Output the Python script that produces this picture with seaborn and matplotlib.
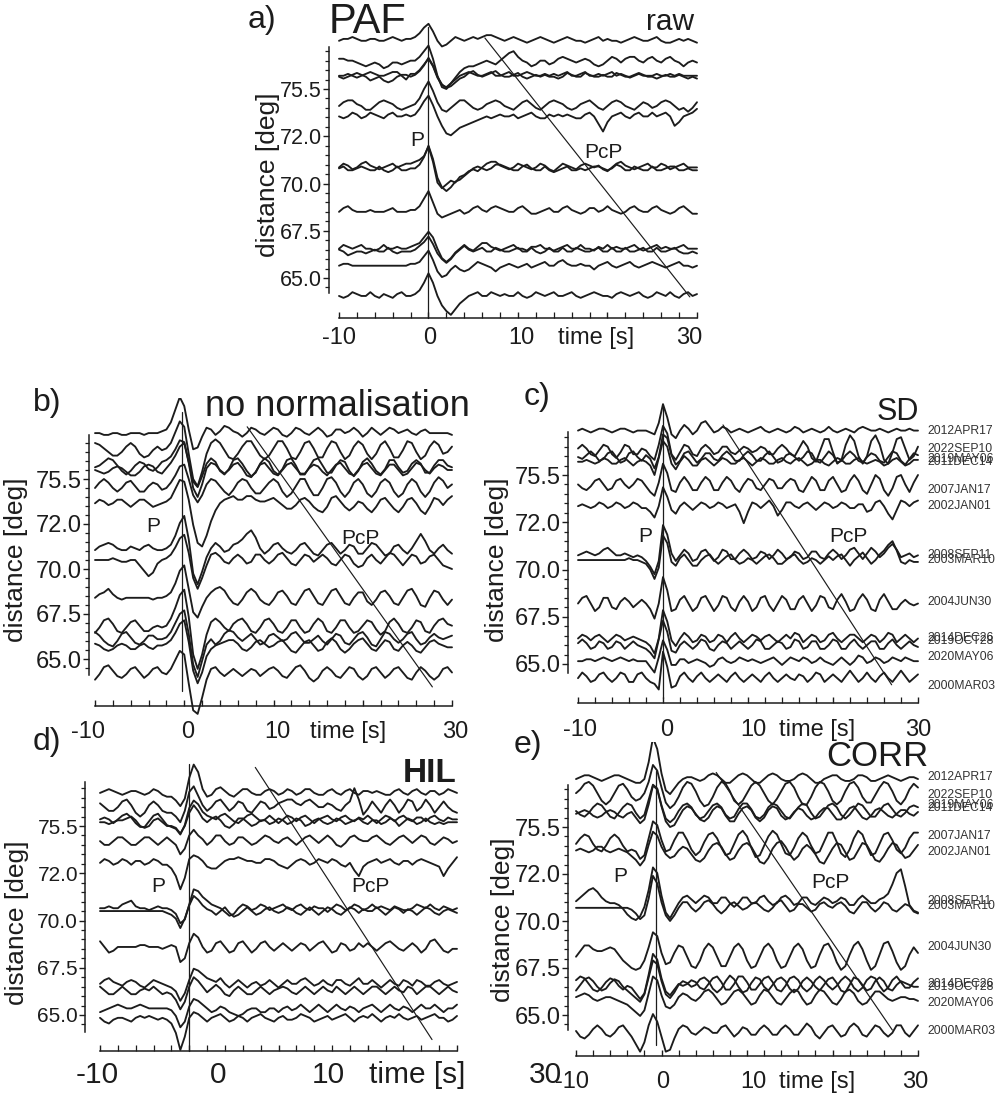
import numpy as np
import pandas as pd
import matplotlib
matplotlib.use("Agg")
import matplotlib.pyplot as plt
import seaborn as sns

sns.set_theme(style="ticks")
plt.rcParams["font.family"] = ["Liberation Sans", "DejaVu Sans"]

W, H = 1001, 1097
INK = "#1c1c1c"

# ---------------------------------------------------------------- data
events = ["2012APR17", "2022SEP10", "2019MAY06", "2011DEC14", "2007JAN17",
          "2002JAN01", "2008SEP11", "2003MAR10", "2004JUN30", "2014DEC26",
          "2019OCT28", "2020MAY06", "2000MAR03"]
distance = [77.35, 76.4, 75.85, 75.7, 74.2, 73.35, 70.75, 70.5, 68.3, 66.35,
            66.2, 65.35, 63.85]

t_start, t_step = -10.0, 0.5          # samples every 0.5 s from -10 s to 30 s
amp_unit = 0.1                         # trace amplitudes are in 0.1 deg

# a) PAF raw
paf_raw = [
    [0,1,1,2,1,0,0,1,1,0, 0,1,2,1,0,1,1,2,4,7, 9,5,0,-3,-2,0,2,1,0,1, 2,1,2,3,3,2,1,0,1,2, 1,0,-1,0,1,2,1,0,-1,0, 1,2,1,0,0,-1,0,1,2,0, 1,0,0,-1,0,1,2,1,0,0, 1,2,0,-1,-1,0,1,0,1,0, -1],
    [2,2,1,1,0,-1,-2,-1,0,-1, -3,-2,0,0,-1,0,1,1,3,6, 9,2,-7,-13,-14,-11,-8,-5,-3,-2, -2,-1,0,1,0,-1,1,3,5,6, 3,1,0,-2,-1,1,1,-1,0,2, 3,2,1,0,1,2,1,-1,-2,-1, 1,3,2,0,2,3,3,1,0,2, 3,1,0,2,3,1,0,-2,0,1, 0],
    [0,-1,0,1,2,1,0,-2,-1,0, -2,-3,-2,0,1,1,0,1,3,6, 10,6,0,-4,-6,-5,-3,-1,0,2, 3,1,0,1,2,3,1,0,0,1, 2,0,-1,0,1,0,1,0,0,-1, 0,2,1,0,0,2,1,0,0,1, 0,0,2,1,0,0,1,2,1,0, 0,-1,0,1,0,0,1,0,-1,0, -1],
    [0,0,1,0,-1,0,1,2,1,0, 0,1,2,2,0,-2,1,1,3,6, 9,5,-1,-5,-6,-4,-2,0,1,2, 1,0,0,1,2,0,0,1,2,0, 0,1,2,1,0,0,1,0,1,0, 1,2,0,0,1,2,0,0,1,0, 1,2,0,1,0,-1,0,1,0,0, 0,1,0,0,1,0,1,0,0,0, 0],
    [0,2,3,3,1,0,-2,-2,0,2, 3,2,1,-1,-2,-1,0,1,4,9, 13,8,2,-2,-3,-1,1,3,3,1, -1,-2,-1,1,2,3,2,0,-1,-2, 0,2,3,1,-1,-2,0,2,3,2, 1,-1,-2,-1,1,2,3,1,-1,-2, 0,2,3,2,0,-1,-2,0,2,1, -1,0,2,3,2,0,-2,-1,-3,-1, 2],
    [0,-1,0,2,1,-1,0,2,1,0, -1,1,2,0,0,1,0,1,4,8, 11,6,0,-5,-9,-10,-8,-6,-5,-4, -3,-2,-1,0,-1,0,1,0,0,1, -1,0,1,2,0,-1,-1,1,0,1, 0,1,0,-1,-1,1,2,0,-4,-8, -3,0,1,2,0,-1,1,2,0,0, 2,0,1,2,0,-5,-3,0,1,2, 4],
    [0,2,1,-1,0,2,3,1,0,-1, 0,1,2,0,1,2,2,3,4,6, 11,3,-8,-11,-9,-7,-8,-5,-4,-2, -1,-2,0,2,3,3,1,0,-1,0, 2,1,0,-1,0,2,1,-1,-2,0, 2,1,0,-1,1,2,1,0,1,-1, -2,0,2,3,1,0,-1,0,1,2, 0,0,2,1,-1,0,1,2,0,0, 0],
    [1,2,0,0,1,2,1,0,0,2, 0,-1,0,2,0,0,1,1,3,7, 13,6,-4,-9,-11,-9,-6,-5,-3,-1, 1,2,1,0,1,3,3,2,1,0, 0,2,3,1,0,0,2,0,-1,0, 1,2,0,0,1,0,1,2,2,1, 0,1,3,2,0,0,2,1,0,0, 2,0,0,1,2,2,0,0,1,0, 0],
    [0,2,3,1,0,0,0,1,0,0, 0,1,2,0,0,0,1,1,3,7, 11,5,-1,-3,-2,-1,0,1,-1,0, 2,3,1,0,2,3,2,1,0,0, 2,3,1,-1,-1,0,1,2,0,0, 2,3,1,0,-1,0,2,2,0,1, 3,1,0,-1,0,2,3,1,0,0, 2,3,1,0,-1,0,2,3,1,-1, -1],
    [0,2,1,0,1,2,0,0,-1,0, 2,0,0,1,0,0,1,2,3,6, 9,6,0,-5,-7,-5,-2,0,2,0, -1,1,3,3,1,0,-1,0,1,2, 0,0,-1,1,1,2,0,0,-1,0, 1,2,0,0,2,0,0,-1,1,0, 2,0,1,0,0,1,2,0,-1,0, 1,2,0,1,0,0,1,2,0,0, 0],
    [1,0,-2,-1,0,0,-1,0,1,0, 0,2,0,-1,0,0,0,1,3,5, 8,4,-1,-4,-6,-4,-1,1,3,1, 0,1,2,0,0,2,1,0,0,1, 2,0,0,2,0,-1,0,2,0,0, 2,0,0,2,1,0,0,1,2,0, 0,2,0,0,2,0,0,1,2,0, 0,2,0,0,1,2,0,-1,-1,0, -1],
    [0,1,1,0,0,0,0,0,0,0, 0,0,0,0,0,0,1,1,2,5, 8,3,-3,-6,-5,-2,0,-2,-3,-2, 0,2,1,0,-1,-3,-1,0,1,0, -1,0,1,-1,0,1,2,0,0,2, 3,1,0,0,1,0,0,-2,0,1, 2,0,-1,0,1,2,0,-1,0,1, 2,1,0,-1,0,1,2,0,0,-1, 0],
    [0,-1,0,2,1,0,0,2,0,-1, 1,0,-1,1,2,0,0,1,3,7, 12,7,0,-5,-8,-10,-7,-4,-2,0, 1,2,0,0,2,1,0,1,0,0, 2,0,-1,0,2,1,0,1,2,0, 0,1,2,0,-1,0,1,2,1,0, 0,-1,1,2,1,0,1,2,0,-1, 0,2,1,0,2,0,-1,1,2,0, 1],
]
paf_shift = [2, 0, -2, 0, -1, 2, 1, 2, 2, 2, 2, 3, 2]

# b) no normalisation
nonorm = [
    [0,0,-1,-1,0,0,-1,-1,0,0, 0,-1,0,0,0,1,2,6,13,20, 15,2,-9,-8,-2,3,2,-1,1,4, 3,1,0,-2,0,3,2,0,-1,1, 3,2,-1,-2,0,3,2,0,-1,1, 3,1,-2,-1,2,2,0,1,3,1, -2,0,3,1,-1,1,3,2,0,1, 2,0,-1,1,2,0,0,0,0,0, -1],
    [4,3,1,-1,-3,-3,-1,2,4,2, -2,-4,-3,0,2,0,1,4,10,16, 13,-2,-16,-20,-12,-2,4,6,4,0, -4,-5,-2,2,5,5,1,-3,-5,-3, 1,5,5,1,-4,-5,-1,4,5,1, -4,-4,1,5,4,-1,-5,-3,2,5, 3,-2,-5,-2,3,5,1,-4,-4,0, 5,4,-1,-5,-3,2,5,3,-2,-1, 2],
    [0,1,3,5,4,1,-2,-4,-2,1, 3,2,-1,-2,0,3,4,6,10,15, 14,3,-8,-11,-5,2,5,3,-2,-4, -1,4,5,2,-2,-5,-3,2,5,3, -2,-4,-1,4,5,1,-4,-4,0,4, 5,1,-3,-3,1,4,3,-2,-5,-2, 3,5,2,-2,-4,-1,4,4,0,-3, -2,2,4,2,-3,-3,1,4,4,1, 0],
    [0,-1,-2,-1,1,2,1,-1,-3,-3, -1,2,3,2,-1,-2,1,4,8,13, 15,4,-10,-15,-8,1,4,3,0,-2, 0,3,4,1,-3,-4,-1,3,4,1, -2,-3,0,3,4,1,-2,-2,1,3, 2,-1,-3,0,3,4,1,-2,-3,0, 3,4,1,-2,-3,0,3,3,0,-3, -2,1,4,3,0,-2,1,3,2,0, 0],
    [0,3,5,3,0,-2,0,3,4,1, -2,-2,1,3,2,-1,0,3,7,12, 13,5,-4,-8,-4,2,5,4,1,-2, -4,-1,3,5,4,0,-3,-3,0,3, 5,3,-2,-5,-3,1,5,5,0,-4, -4,0,5,6,3,-2,-5,-2,3,5, 2,-3,-5,-2,3,5,3,-2,-5,-3, 2,5,3,-2,-5,-2,3,6,4,0, 2],
    [0,2,1,-1,0,2,2,0,-2,0, 2,2,0,-2,-1,0,1,3,8,13, 12,2,-12,-22,-24,-18,-10,-4,0,2, 3,4,2,2,4,4,2,1,1,2, 3,1,-1,-3,-3,-1,2,3,1,-2, -4,-5,-2,3,4,1,-2,-4,-2,1, 0,-3,-5,-2,2,3,0,-3,-5,-2, 2,3,0,-4,-6,-2,3,2,-1,2, 4],
    [0,2,3,4,3,1,0,0,2,1, 0,2,3,1,0,0,1,3,8,15, 19,6,-13,-19,-12,-4,1,4,2,-1, 0,3,4,6,9,11,7,1,-2,0, 3,4,1,-1,-2,0,3,4,1,-2, -3,0,3,4,1,-2,0,3,2,-2, -2,1,4,3,0,-3,-2,2,3,0, -2,1,5,9,5,0,-2,1,3,0, -2],
    [0,0,0,0,1,0,-1,-1,0,0, -3,-6,-9,-7,-2,0,1,3,7,12, 14,4,-10,-16,-10,-3,3,4,2,-1, -2,1,3,1,-2,-1,3,3,0,-2, 0,3,4,1,-2,-3,0,3,2,-1, 1,3,1,-2,-3,0,3,2,-2,-4, -3,1,3,0,-2,1,4,3,0,-3, 0,3,2,-2,-1,2,3,0,-3,-4, -5],
    [0,2,3,5,2,0,-1,0,0,0, 0,0,0,-1,0,0,1,3,8,15, 18,5,-8,-11,-5,0,3,5,6,4, 0,-3,-4,-1,3,5,3,-1,-3,-4, -1,3,4,1,-3,-4,0,4,5,1, -3,-4,0,4,5,1,-3,-4,0,3, 3,-2,-4,-1,3,4,1,-3,-4,0, 4,5,1,-4,-5,0,4,3,-1,-4, -1],
    [-3,0,4,5,2,-2,-3,0,3,4, 1,-2,-2,0,1,0,1,5,11,18, 21,6,-15,-23,-15,-4,3,5,3,0, -2,2,4,5,2,-2,-3,0,4,5, 2,-2,-3,0,4,4,0,-3,-2,2, 5,3,-2,-3,0,4,4,0,-3,-2, 1,4,3,-1,-4,-2,3,5,2,-2, -3,0,4,3,-2,-3,1,4,5,2, 1],
    [4,2,-1,-3,-4,-1,3,4,1,-2, -3,-1,2,2,0,0,1,4,9,14, 16,3,-14,-21,-12,-3,0,-3,-1,3, 5,4,1,-1,1,3,0,-3,-2,2, 3,1,-1,0,3,4,1,-2,-2,0, 2,-1,-3,0,3,2,-2,-3,0,3, 4,1,-3,-4,0,4,3,0,-2,0, 3,4,0,-3,-2,1,3,1,0,1, 2],
    [1,0,-2,-3,-2,0,1,0,-2,-2, 0,1,-1,-2,0,0,1,3,7,12, 14,2,-14,-21,-15,-6,-2,0,1,2, 3,3,1,-2,-3,-1,2,3,1,-1, 0,2,3,0,-3,-4,-1,2,3,0, -3,-2,2,4,2,-2,-4,-2,1,3, 4,1,-2,-3,0,3,2,-2,-3,0, 2,0,-3,-4,-1,2,3,1,0,-1, -1],
    [-4,-1,3,4,1,-2,-3,-1,2,3, 0,-3,-1,2,3,0,-1,2,7,12, 10,-6,-21,-23,-14,-4,2,3,0,-2, 0,2,0,-2,0,2,1,-2,0,2, 3,1,-2,-3,0,3,4,1,-3,-5, -3,1,3,1,-2,-3,0,3,2,-2, -4,-2,2,3,0,-3,-1,2,3,0, -3,-4,0,3,1,-2,-4,-2,2,3, 0],
]
nonorm_shift = [2, 2, -2, -2, 3, 3, 3, 0, 1, 4, -1, 4, 4]

# c) SD
sd = [
    [0,1,0,-1,0,1,1,0,-1,0, 1,1,0,-1,0,0,0,-1,-2,4, 14,7,-2,-4,0,3,1,-2,0,4, 5,2,-1,0,2,1,-1,0,1,0, -1,0,1,2,0,-1,0,1,0,-1, 0,2,1,-1,0,1,0,-1,0,2, 0,-1,0,1,0,-1,1,2,1,0, 0,1,0,-1,0,1,0,0,1,0, 0],
    [1,3,1,-2,-3,0,3,2,-2,-4, -1,3,2,-2,-2,1,0,-3,-5,3, 13,9,-2,-5,-1,3,2,-2,-3,1, 3,1,-2,-1,2,2,-1,-2,0,2, 1,-1,0,2,1,-2,-2,1,3,1, -2,-3,1,5,2,-4,-6,0,6,6, -1,-7,-5,3,8,5,-3,-7,-3,5, 8,3,-5,-7,-1,6,7,1,-5,-3, 2],
    [0,-1,1,3,1,-2,-1,2,3,0, -3,-2,2,3,0,-2,1,-1,-6,0, 12,10,1,-4,-2,2,3,0,-3,-1, 2,2,-1,-2,1,3,1,-2,-2,1, 3,1,-2,-2,1,3,0,-3,-2,1, 2,0,-2,0,3,2,-2,-3,0,3, 1,-3,-2,1,3,1,-2,-3,0,2, 1,-2,-3,0,3,2,-2,-4,-1,2, 1],
    [0,0,1,0,-1,0,2,1,-1,-1, 1,2,0,-2,0,1,0,-2,-7,2, 11,8,-1,-4,0,3,1,-2,-2,1, 2,0,-2,0,2,1,-1,-1,1,2, 0,-2,0,2,1,-1,-1,1,2,0, -1,1,2,0,-2,-1,1,1,-1,-2, 0,2,1,-1,-1,1,2,0,-1,0, 1,0,-2,-1,1,2,0,-2,-1,1, 1],
    [0,-2,-3,-1,2,3,0,-3,-2,2, 3,0,-2,0,3,2,-1,-4,-6,1, 11,6,-3,-4,1,4,1,-3,-3,1, 4,2,-3,-3,1,4,2,-2,-4,0, 3,2,-2,-3,0,3,2,-2,-2,1, 3,2,-3,-4,0,4,2,-3,-3,2, 4,0,-4,-3,2,5,2,-3,-5,0, 5,3,-3,-6,-2,4,5,0,-4,1, 5],
    [0,1,0,-1,0,2,1,-1,0,2, 1,-1,0,2,1,-1,-1,-3,-6,0, 10,5,-2,-4,0,2,0,-2,0,2, 1,-1,0,2,1,-1,0,1,-3,-9, -3,2,1,-1,1,3,0,-5,-2,2, 2,0,-1,1,2,0,-2,0,2,1, -1,0,2,1,-1,-1,1,1,-3,-2, 2,3,0,-4,-7,-2,3,2,0,2, 3],
    [0,1,2,1,0,1,3,4,2,0, 0,1,0,-1,0,-1,-3,-6,-10,-3, 16,11,1,-3,0,3,1,-3,-2,2, 3,0,-3,-1,3,2,-2,-2,1,3, 1,-2,-1,2,1,-2,0,3,1,-2, -1,2,1,-2,-1,2,2,-1,-2,1, 3,1,-2,0,3,4,1,-2,1,4, 2,-1,1,4,6,3,-1,0,1,-1, 0],
    [0,0,0,0,0,0,0,0,0,0, 0,0,1,0,0,-1,-2,-5,-10,-4, 13,9,-1,-3,1,3,0,-3,-3,0, 2,3,0,-2,0,2,3,0,-2,-1, 1,0,-2,0,2,3,1,-2,-2,0, 2,3,0,-2,-1,1,0,-2,0,2, 0,2,3,0,-3,0,2,4,1,-2, 0,3,5,8,10,5,-1,-2,0,-1, -1],
    [0,3,4,0,-4,-2,3,3,-2,-3, 1,3,1,-2,0,2,0,-3,-8,0, 14,7,-4,-3,2,4,0,-4,-2,3, 4,0,-4,-1,4,3,-2,-4,1,4, 1,-4,-2,3,4,-1,-4,0,4,2, -3,-3,2,4,0,-4,-1,4,3,-2, -3,2,5,1,-4,-3,2,5,2,-3, -4,2,5,1,-3,-3,0,2,0,-1, 0],
    [0,2,1,-1,1,2,0,-2,0,2, 1,-1,0,1,0,-1,-2,-4,-8,0, 15,9,-1,-4,0,3,1,-2,-1,2, 1,-2,-1,2,1,-2,1,3,0,-2, 0,2,1,-1,1,2,0,-2,0,2, 0,3,2,-2,0,2,1,-2,-1,2, 3,0,-2,0,2,2,0,-2,0,2, 1,-2,0,3,2,-2,0,2,0,-2, 0],
    [1,3,1,-2,-1,2,1,-2,-1,2, 1,-2,0,2,0,-1,-2,-4,-7,3, 13,7,-3,-4,0,2,0,-2,0,3, 2,-2,-3,0,2,1,-2,0,2,0, -2,0,3,2,-2,-2,0,2,1,-2, -1,3,2,-2,-1,2,2,-2,-2,0, 3,2,-2,-2,1,3,0,-2,0,2, 2,-2,-2,1,3,0,-2,0,2,0, -1],
    [0,0,1,1,0,1,2,1,0,1, 2,1,0,1,0,0,0,-3,-6,2, 11,6,-2,-2,1,1,-1,0,1,0, -1,-3,-2,1,2,0,-1,0,2,1, 0,1,0,-1,0,1,2,0,-2,0, 2,1,0,2,1,-1,0,2,0,-1, -2,0,2,0,-2,0,3,2,-1,0, 2,1,-1,0,2,1,0,2,1,0, 0],
    [0,3,1,-2,-1,2,3,0,-2,0, 3,2,-2,-2,2,3,0,-2,-3,-6, 14,6,-5,-4,1,3,0,-2,1,3, 0,-2,0,2,0,-2,1,3,0,-2, 0,2,0,-2,1,3,0,-2,0,2, 0,-1,2,1,-2,0,3,2,-2,0, 2,0,-2,1,4,1,-2,0,3,0, -2,1,3,0,-2,1,4,1,-2,0, 2],
]
sd_shift = [0, -1, 1, 0, 3, 0, 0, 0, -1, 0, -2, -2, 4]

# d) HIL
hil = [
    [0,1,2,1,0,-1,0,1,1,0, -1,0,2,1,-1,-2,-2,-4,-7,-3, 8,15,11,2,-2,-1,2,3,1,-1, -2,0,2,2,0,-1,-1,1,2,1, -1,0,2,1,-1,0,2,2,0,-1, -1,1,2,0,-1,1,2,0,-1,1, 1,0,1,0,-1,-1,1,2,0,-1, 1,2,0,-1,1,1,-1,0,2,1, 0],
    [2,0,-2,-2,0,3,4,1,-3,-5, -3,1,3,1,-2,-3,-3,-5,-8,-2, 8,11,6,1,-2,0,3,4,1,-2, 0,3,2,-2,-3,0,3,2,-1,0, 2,3,4,4,2,1,3,4,2,0, 0,2,1,-1,-2,1,3,10,4,-4, -1,3,0,-3,1,4,1,-3,0,4, 3,-2,0,4,1,-3,0,3,0,-2, -3],
    [0,1,0,-2,0,2,3,1,-2,-4, -4,-1,2,3,0,-3,-4,-5,-8,-3, 6,10,8,4,2,1,0,2,3,1, -1,-2,0,2,3,1,-1,0,2,0, -2,0,2,1,-1,1,2,0,-2,0, 1,2,0,-1,1,2,0,-1,1,0, 2,0,-2,0,2,1,-1,1,2,0, -1,1,1,-1,1,2,0,-1,1,0, 0],
    [0,0,-1,0,1,1,2,3,1,-2, -3,-2,1,2,0,-2,-2,-3,-6,-2, 5,9,6,2,0,2,3,1,-2,-3, -1,2,2,0,-2,-1,1,1,-1,0, 2,1,-1,0,2,1,-2,-1,1,2, 0,-1,0,2,1,-1,0,1,2,0, -1,1,1,-1,0,2,1,-2,0,2, 1,-1,0,2,0,-1,0,-1,0,0, 0],
    [0,-2,-2,0,2,2,0,-2,-2,0, 2,2,0,-2,0,2,0,-2,-7,-4, 3,6,3,1,-2,0,3,3,0,-2, -1,2,2,0,-2,-1,1,3,2,0, -1,1,2,0,-2,0,2,3,1,-1, 1,3,1,-2,-3,-1,2,3,1,0, 0,2,3,1,-1,-2,0,2,3,1, -1,1,3,2,-1,-2,0,2,1,-1, 0],
    [0,2,1,-1,0,2,1,-1,1,1, -1,0,2,1,-1,-1,-3,-7,-14,-8, 2,4,3,1,-2,-3,-3,-1,1,2, 2,3,2,1,1,0,0,2,2,1, -1,-2,-3,-1,1,2,1,-1,0,2, 1,0,2,1,-1,-2,0,-4,-7,-2, 0,1,2,0,1,2,0,-1,1,1, -1,1,2,1,0,-1,-2,-7,-3,0, 3],
    [0,0,1,0,0,2,3,4,1,0, 0,-1,0,1,0,0,-1,-3,-8,-6, 2,10,9,6,4,2,1,0,-2,-4, -3,0,2,1,-1,0,2,1,-1,0, 1,2,0,-1,1,2,0,-1,1,0, 0,-2,0,2,1,-1,0,2,1,-1, 0,2,0,1,0,-1,1,0,-1,-1, 0,2,1,0,2,0,-1,1,0,-1, 0],
    [0,0,0,0,0,0,0,0,0,0, 0,0,0,0,0,-1,-2,-4,-9,-4, 3,8,6,3,1,0,-2,0,2,-1, -3,-2,0,2,0,-2,-1,1,2,0, -1,0,2,1,-1,-2,0,2,0,-2, 0,2,1,-1,-2,0,2,1,-1,1, 0,0,2,0,-2,0,2,1,-1,1, 0,-2,0,2,1,-1,-2,0,1,0, -1],
    [3,0,-3,-2,0,0,0,0,0,1, 1,0,0,0,-1,0,1,0,-8,-6, 2,7,5,0,-3,-2,2,3,0,-3, -2,2,3,0,-3,-1,2,3,0,-2, 0,2,0,-2,0,2,1,-2,0,2, 3,0,-3,-2,2,1,-2,-1,2,0, 2,0,-2,0,2,3,1,-1,-2,0, 2,0,-3,-1,3,4,1,-2,-3,-1, -1],
    [0,2,3,1,0,-1,1,2,1,-1, -2,0,2,1,0,-1,-2,-4,-9,-5, 2,8,7,5,3,2,1,3,0,-2, 0,2,0,-2,0,1,-1,0,2,0, -2,0,2,0,0,2,3,1,-1,0, 2,0,-1,2,2,0,-1,1,3,0, 0,2,0,-2,0,2,0,-1,2,1, -1,2,1,-1,-1,1,2,0,-1,0, 1],
    [2,0,-2,-2,0,2,0,-2,-2,0, 1,0,2,0,-2,-1,-2,-5,-10,-6, 2,7,5,2,-1,1,3,1,-2,-3, 0,2,0,-2,-2,0,2,0,-2,0, 1,2,1,-1,-2,0,2,0,-2,0, 2,0,-1,2,0,-2,0,2,0,-2, 0,2,2,0,-2,0,2,0,-1,2, 1,-2,0,2,2,0,-2,0,2,0, -1],
    [-2,-1,0,1,2,1,0,0,1,2, 1,0,0,0,0,0,-1,-4,-10,-7, 1,5,4,2,0,-2,-1,1,0,-2, -3,-4,-3,-1,0,0,-2,-2,0,0, -2,0,1,-1,0,2,0,-2,0,2, 0,-2,0,2,0,-1,1,0,-2,0, 1,2,0,-2,0,2,0,-1,1,0, -2,0,2,0,0,2,0,-2,0,0, 2],
    [0,-2,-3,-1,0,0,-1,-2,0,1, 0,1,0,-1,0,-1,-3,-8,-17,-10, 0,3,2,0,-2,0,1,2,0,-2, -1,1,0,-2,0,1,2,0,-1,-2, 0,1,-1,-1,0,2,1,0,-2,-1, 0,1,-1,0,1,2,0,-2,0,1, 0,2,0,-2,0,1,0,2,0,-1, 0,1,-1,0,1,2,0,0,-2,-1, 1],
]
hil_shift = [-6, -4, -5, -5, 0, -3, -1, 0, 3, 3, 1, 0, 10]

# e) CORR
corr = [
    [0,1,2,2,1,0,-1,0,1,2, 2,1,0,-1,-2,-2,0,9,22,16, 3,-6,-8,-5,-2,0,1,1,0,-1, 0,2,3,2,0,-2,-2,0,2,3, 2,0,-2,-2,0,2,3,2,0,-1, -1,0,2,3,2,0,-2,-2,0,1, 2,2,0,-1,-1,0,2,2,1,-1, -1,0,1,2,1,0,-1,0,1,1, 0],
    [0,2,5,6,4,0,-4,-6,-4,0, 4,5,2,-2,-4,-3,0,6,15,12, 3,-5,-8,-6,-2,3,6,5,1,-4, -7,-6,-2,3,6,5,1,-4,-6,-4, 0,4,6,4,0,-4,-6,-3,1,5, 6,3,-2,-6,-6,-2,3,6,5,1, -4,-6,-4,1,5,6,3,-2,-5,-5, -1,3,6,5,1,-4,-6,-3,2,5, 3],
    [0,-2,-3,-1,2,4,3,0,-3,-4, -1,2,4,3,-1,-4,-2,6,14,12, 3,-4,-6,-4,0,3,4,2,-2,-4, -3,0,3,4,2,-2,-4,-3,1,4, 4,1,-3,-4,-2,2,4,3,0,-3, -4,-1,2,4,3,-1,-4,-3,0,3, 4,2,-2,-4,-2,1,4,3,0,-3, -3,0,3,4,1,-2,-3,-1,2,3, 2],
    [0,1,2,1,-1,-2,-1,1,2,1, -1,-2,0,1,-2,-5,-3,5,15,13, 4,-4,-7,-6,-2,2,4,3,0,-3, -4,-2,2,4,3,-1,-4,-4,0,3, 4,2,-2,-4,-2,2,4,3,-1,-3, -2,1,3,2,-1,-3,-2,1,3,3, 0,-3,-3,0,3,4,1,-2,-3,-1, 2,3,1,-1,-2,0,2,2,0,-1, 1],
    [0,3,5,4,0,-3,-4,-1,3,5, 3,-1,-4,-3,-4,-8,-6,3,12,10, 2,-4,-3,2,6,6,2,-3,-6,-4, 1,5,6,3,-2,-6,-5,0,5,7, 4,-2,-7,-6,-1,4,7,5,0,-5, -6,-2,3,6,4,-1,-5,-4,1,6, 6,1,-5,-7,-3,3,7,5,-1,-6, -5,0,5,6,2,-3,-5,-2,3,6, 6],
    [0,1,0,-1,0,2,2,0,-1,0, 1,0,-1,-3,-5,-8,-5,3,10,8, 2,-2,-4,-3,0,2,1,-2,-5,-6, -4,0,3,4,2,-2,-5,-4,0,3, 4,2,-2,-6,-7,-4,1,4,5,2, -2,-5,-3,1,3,1,-2,-6,-7,-3, 1,4,3,-1,-5,-4,0,4,3,-1, -5,-6,-3,1,4,3,-1,-4,-3,0, 3],
    [0,2,4,6,7,5,2,0,-1,-1, -2,-4,-7,-9,-10,-8,-3,6,18,15, 3,-6,-9,-5,-1,2,3,1,-1,1, 3,2,-1,-1,2,2,-1,-3,-1,2, 2,-1,-1,2,3,0,-2,-1,2,3, 1,-2,-1,2,2,-1,-2,0,2,1, -1,0,2,1,-2,-2,1,3,1,-1, -1,1,2,4,9,15,17,8,-2,-5, -6],
    [0,0,0,0,0,0,0,0,0,0, 0,0,0,-1,-3,-6,-4,5,17,13, 3,-4,-7,-4,0,3,3,0,-2,0, 3,4,2,-1,-3,-1,2,3,1,-1, 0,2,3,1,-1,-2,0,3,4,1, -2,-1,2,2,0,-2,-1,2,3,1, 0,2,3,1,-2,-3,0,3,3,0, -2,0,3,2,-1,-2,0,2,1,-2, -3],
    [0,3,6,6,4,3,3,4,5,4, 1,-2,-4,-6,-7,-6,-2,5,13,11, 2,-4,-3,2,6,5,0,-5,-6,-2, 4,7,5,0,-5,-5,0,5,7,4, -2,-6,-5,0,5,7,4,-2,-6,-5, 0,5,7,4,-2,-6,-5,1,6,7, 3,-3,-7,-5,1,6,8,4,-2,-7, -5,1,7,8,3,-3,-7,-5,1,5, 2],
    [2,4,3,0,-3,-4,-2,1,3,2, -1,-3,-1,-2,-5,-8,-5,5,16,13, 3,-4,-6,-3,0,-1,0,2,1,-2, -3,0,3,4,1,-3,-3,0,4,4, 1,-3,-3,0,3,4,1,-3,-4,-1, 3,4,2,-2,-4,-2,2,4,2,-1, -3,-1,2,4,2,-2,-4,-2,2,4, 3,-1,-4,-2,2,4,1,-2,-2,1, 3],
    [-3,0,3,4,2,-1,-3,-2,1,3, 2,-1,-3,-5,-7,-9,-5,4,13,11, 2,-5,-7,-4,0,2,1,-1,0,3, 4,2,-2,-4,-2,2,5,3,-1,-4, -3,1,4,3,-1,-3,0,3,4,2, -2,-4,-2,2,4,2,-1,-3,0,3, 4,1,-3,-4,0,4,3,0,-3,-2, 2,4,2,-2,-3,0,2,1,0,-1, -1],
    [0,1,2,1,-1,-2,-1,0,0,-1, -2,-3,-4,-6,-8,-10,-7,2,11,9, 1,-5,-6,-4,0,2,1,-1,-2,0, 3,4,2,-1,-4,-3,0,3,4,2, -1,-4,-3,1,4,3,0,-3,-4,-1, 2,4,3,-1,-4,-3,1,4,3,0, -3,-4,-1,3,4,2,-2,-4,-3,0, 3,3,1,-1,-2,-1,0,0,-1,-1, -2],
    [0,-3,-4,-2,1,3,1,-2,-3,-1, 2,3,0,-3,-7,-11,-6,3,9,5, -3,-11,-10,-4,1,3,2,-1,-2,0, 2,1,-1,-1,2,3,0,-3,-1,2, 1,-2,-2,1,3,1,-2,-2,1,3, 1,-2,-2,1,4,2,-2,-4,-1,2, 3,0,-3,-2,2,4,2,-2,-3,0, 3,2,-1,-3,-1,3,3,-1,-3,0, 3],
]
corr_shift = [2, 4, 0, 0, -1, 4, 3, 2, -2, 3, 4, 6, 3]

# P pick (vertical marker) and PcP travel-time line per panel
p_time = [0.0, -0.2, 0.0, 0.0, -0.6]
p_top = [78.3, 78.7, 78.6, 78.3, 78.0]
p_bottom = [62.9, 63.2, 63.2, 63.1, 63.4]
pcp_t = [(6.3, 29.2), (7.05, 27.8), (7.06, 26.9), (7.4, 27.2), (6.4, 27.0)]
pcp_d = [(77.7, 64.0), (77.9, 63.45), (77.65, 63.9), (78.1, 63.7), (77.9, 64.2)]

ytick_pos = [65, 67.5, 70, 72.5, 75]
ytick_text = ["65.0", "67.5", "70.0", "72.0", "75.5"]
xtick_text = ["-10", "0", "10", "time [s]", "30"]

for _name, _set in [("paf_raw", paf_raw), ("nonorm", nonorm), ("sd", sd), ("hil", hil), ("corr", corr)]:
    _bad = [i for i, tr in enumerate(_set) if len(tr) != 81]
    assert not _bad, f"{_name}: traces {_bad} have lengths {[len(_set[i]) for i in _bad]}"

# ---------------------------------------------------------------- layout (pixels)
geom = {
    "a": dict(x0=339, x30=697, y65=278, y75=89, yspine=329, ytop=47, ybot=293, xaxis=318, yfs=15.5,
              xlab_y=338, xlab_x=[339, 430, 521, 596, 689], xfs=17),
    "b": dict(x0=95, x30=452, y65=659, y75=479, yspine=89, ytop=435, ybot=675, xaxis=706, yfs=17,
              xlab_y=732, xlab_x=[88, 188, 277, 348, 455], xfs=17),
    "c": dict(x0=578, x30=918, y65=664, y75=475, yspine=568, ytop=432, ybot=673, xaxis=703, yfs=17,
              xlab_y=730, xlab_x=[580, 667, 753, 817, 918], xfs=17),
    "d": dict(x0=100, x30=457, y65=1015, y75=826, yspine=85, ytop=782, ybot=1032, xaxis=1051, yfs=15,
              xlab_y=1075, xlab_x=[97, 218, 328, 417, 545], xfs=21.5),
    "e": dict(x0=576, x30=918, y65=1015, y75=827, yspine=568, ytop=785, ybot=1030, xaxis=1056, yfs=17,
              xlab_y=1082, xlab_x=[572, 663, 753, 817, 915], xfs=17),
}
ylab_xy = {"a": (268, 175), "b": (16, 560), "c": (497, 560), "d": (17, 923), "e": (503, 920)}
letter_xy = {"a": (262, 20), "b": (47, 403), "c": (537, 397), "d": (47, 742), "e": (528, 745)}
p_lab_xy = {"a": (417, 140), "b": (153, 527), "c": (645, 537), "d": (158, 887), "e": (620, 877)}
pcp_lab_xy = {"a": (603, 153), "b": (360, 538), "c": (848, 537), "d": (370, 887), "e": (830, 882)}

fig = plt.figure(figsize=(W / 100, H / 100), dpi=100)
fig.patch.set_facecolor("white")


def ftext(x, y, s, **kw):
    kw.setdefault("color", INK)
    kw.setdefault("ha", "center")
    kw.setdefault("va", "center")
    fig.text(x / W, 1 - y / H, s, **kw)


def make_panel(key, traces, shift, p_i, date_labels=False, label_lift=0.0):
    g = geom[key]
    sx = (g["x30"] - g["x0"]) / 40.0
    sy = (g["y65"] - g["y75"]) / 10.0
    xlim, ylim = (-13.0, 33.0), (61.5, 79.5)
    left = g["x0"] + (xlim[0] + 10) * sx
    right = g["x0"] + (xlim[1] + 10) * sx
    top = g["y65"] - (ylim[1] - 65) * sy
    bottom = g["y65"] + (65 - ylim[0]) * sy
    ax = fig.add_axes([left / W, 1 - bottom / H, (right - left) / W, (bottom - top) / H])
    ax.patch.set_visible(False)

    def t_of(px):
        return -10 + (px - g["x0"]) / sx

    def d_of(py):
        return 65 + (g["y65"] - py) / sy

    # waveforms, one line per event at its epicentral distance
    frames = []
    for name, dist, amp, off in zip(events, distance, traces, shift):
        amp = np.asarray(amp, dtype=float)
        t = t_start + t_step * np.arange(len(amp))
        frames.append(pd.DataFrame({"event": name, "t": t,
                                    "y": dist + amp_unit * (amp + off)}))
    df = pd.concat(frames, ignore_index=True)
    sns.lineplot(data=df, x="t", y="y", units="event", estimator=None, sort=False,
                 color=INK, lw=1.35, ax=ax, legend=False)
    for ln in ax.lines:
        ln.set_solid_joinstyle("round")

    # P pick and PcP line
    ax.plot([p_time[p_i], p_time[p_i]], [p_bottom[p_i], p_top[p_i]], color=INK, lw=0.9)
    ax.plot(pcp_t[p_i], pcp_d[p_i], color=INK, lw=0.85)

    ax.set_xlim(xlim)
    ax.set_ylim(ylim)
    ax.set_xlabel("")
    ax.set_ylabel("")
    sns.despine(ax=ax)

    ylo, yhi = d_of(g["ybot"]), d_of(g["ytop"])
    ax.spines["left"].set_position(("data", t_of(g["yspine"])))
    ax.spines["left"].set_bounds(ylo, yhi)
    ax.spines["bottom"].set_position(("data", d_of(g["xaxis"])))
    ax.spines["bottom"].set_bounds(-10, 30)
    for s in ("left", "bottom"):
        ax.spines[s].set_linewidth(1.1)
        ax.spines[s].set_color(INK)

    ax.set_yticks(ytick_pos)
    ax.set_yticklabels(ytick_text, fontsize=g["yfs"], color=INK)
    minor = [v for v in np.arange(60, 80, 0.5) if ylo - 1e-6 <= v <= yhi + 1e-6 and v not in ytick_pos]
    ax.set_yticks(minor, minor=True)
    ax.tick_params(axis="y", which="major", direction="out", length=4, width=1.0, pad=1, color=INK)
    ax.tick_params(axis="y", which="minor", direction="out", length=3, width=0.9, color=INK)
    ax.set_xticks([-10, 0, 10, 20, 30])
    ax.set_xticklabels([])
    ax.set_xticks(np.arange(-10, 31, 2), minor=True)
    ax.tick_params(axis="x", which="major", direction="in", length=4.5, width=1.0, color=INK)
    ax.tick_params(axis="x", which="minor", direction="in", length=4, width=0.9, color=INK)

    for s, xp in zip(xtick_text, g["xlab_x"]):
        ftext(xp, g["xlab_y"], s, fontsize=g["xfs"])
    lx, ly = ylab_xy[key]
    ftext(lx, ly, "distance [deg]", fontsize=19, rotation=90)
    ftext(*letter_xy[key], key + ")", fontsize=23)
    ftext(*p_lab_xy[key], "P", fontsize=15)
    ftext(*pcp_lab_xy[key], "PcP", fontsize=15)

    if date_labels:
        for name, dist in zip(events, distance):
            ax.text(31.1, dist + label_lift, name, fontsize=8.7, color="#333333",
                    ha="left", va="center", clip_on=False)
    return ax


make_panel("a", paf_raw, paf_shift, 0)
make_panel("b", nonorm, nonorm_shift, 1)
make_panel("c", sd, sd_shift, 2, date_labels=True)
make_panel("d", hil, hil_shift, 3)
make_panel("e", corr, corr_shift, 4, date_labels=True, label_lift=0.3)

# panel titles
ftext(367, 22, "PAF", fontsize=30)
ftext(670, 22, "raw", fontsize=21.5)
ftext(337, 407, "no normalisation", fontsize=26)
ftext(898, 412, "SD", fontsize=22)
ftext(430, 773, "HIL", fontsize=24, fontweight="bold")
ftext(877, 757, "CORR", fontsize=25)

fig.savefig("out.png", dpi=100, facecolor="white")
